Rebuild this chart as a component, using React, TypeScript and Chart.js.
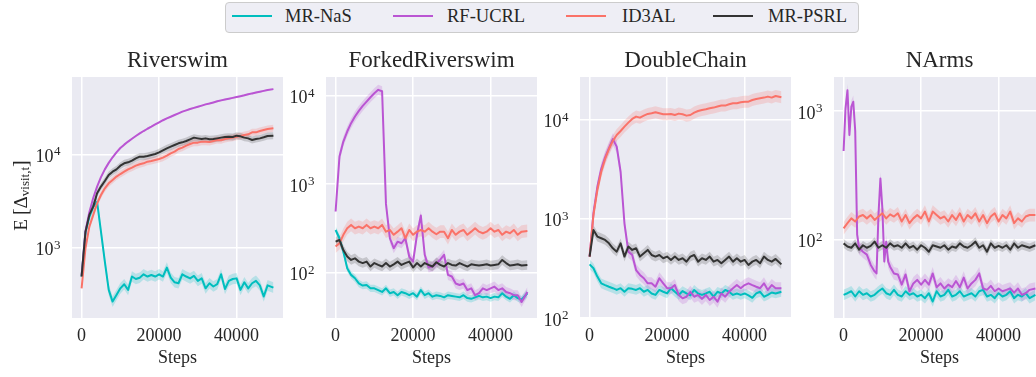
import { useEffect, useRef } from "react";
import { Chart, registerables } from "chart.js";

Chart.register(...registerables);

const FONT = "'Liberation Serif', 'Times New Roman', serif";
const TEXT = "#262626";
const PLOT_BG = "#EAEAF2";

const SERIES_NAMES = ["MR-NaS", "RF-UCRL", "ID3AL", "MR-PSRL"];
const SERIES_COLORS = ["#00BEBE", "#BA55D3", "#FA7268", "#333333"];
const SERIES_FILLS = [
  "rgba(0,190,190,0.22)",
  "rgba(186,85,211,0.22)",
  "rgba(250,114,104,0.22)",
  "rgba(51,51,51,0.2)",
];

// evaluation steps shared by most curves
const STEPS = [
  0, 1000, 2000, 3000, 4000, 5000, 6000, 7000, 8000, 9000,
  10000, 11000, 12000, 13000, 14000, 15000, 16000, 17000, 18000, 19000,
  20000, 21000, 22000, 23000, 24000, 25000, 26000, 27000, 28000, 29000,
  30000, 31000, 32000, 33000, 34000, 35000, 36000, 37000, 38000, 39000,
  40000, 41000, 42000, 43000, 44000, 45000, 46000, 47000, 48000, 49500,
];

// NArms RF-UCRL is logged more densely during its early oscillation
const NA_UCRL_STEPS = [
  0, 500, 1000, 1500, 2000, 2500, 3000, 3500, 4000, 4500, 5000, 6000, 7000,
  8000, 8500, 9000, 9500, 10000, 10500, 11000, 11500, 12000,
  13000, 14000, 15000, 16000, 17000, 18000, 19000, 20000, 21000, 22000,
  23000, 24000, 25000, 26000, 27000, 28000, 29000, 30000, 31000, 32000,
  33000, 34000, 35000, 36000, 37000, 38000, 39000, 40000, 41000, 42000,
  43000, 44000, 45000, 46000, 47000, 48000, 49500,
];

const X_TICKS = [0, 20000, 40000];
const DECADES = [1, 10, 100, 1000, 10000, 100000];

// ---- Riverswim ----
const RS_NAS = [
  490, 1450, 2150, 2750, 3100, 1480, 708, 352, 264, 311,
  366, 405, 352, 490, 461, 476, 518, 490, 509, 490,
  518, 490, 611, 476, 425, 415, 518, 490, 468, 497,
  440, 468, 366, 415, 383, 405, 518, 360, 440, 461,
  468, 352, 425, 366, 415, 440, 394, 299, 394, 373,
];
const RS_UCRL = [
  500, 1500, 2400, 3400, 4500, 5700, 6900, 8100, 9300, 10500,
  11700, 12700, 13700, 14700, 15710, 16750, 17780, 18800, 19780, 20900,
  22000, 23200, 24300, 25300, 26400, 27500, 28700, 29600, 30600, 31500,
  32400, 33300, 34300, 35100, 36000, 37000, 37900, 38700, 39500, 40300,
  41100, 42000, 42900, 44000, 45000, 45900, 46900, 47900, 48900, 50000,
];
const RS_ID3AL = [
  366, 984, 1680, 2240, 2985, 3665, 4320, 4890, 5310, 5770,
  6150, 6520, 6900, 7200, 7560, 7820, 8010, 8340, 8490, 8700,
  8910, 9210, 9680, 10250, 10680, 11410, 11790, 12380, 12900, 13340,
  13340, 13680, 13680, 13560, 13900, 14260, 14140, 14590, 14830, 15100,
  15460, 15710, 16110, 16380, 17210, 17210, 17780, 18240, 18680, 19000,
];
const RS_PSRL = [
  490, 1480, 2240, 2750, 3820, 4510, 5180, 6010, 6520, 6900,
  7560, 8010, 8210, 8550, 9060, 9440, 9440, 9600, 9840, 10080,
  10500, 11040, 11590, 12080, 12590, 13120, 13450, 13900, 14480, 15100,
  14830, 14590, 14830, 14480, 14590, 14830, 15100, 15340, 15460, 15340,
  15850, 15590, 15100, 14830, 14260, 14590, 14830, 15220, 15720, 15850,
];
const RS_BAND = [1.14, 1.02, 1.09, 1.09];

// ---- ForkedRiverswim ----
const FR_NAS = [
  305, 246, 174, 113, 95, 87, 76, 72, 73, 67,
  67, 64, 61, 67, 59, 61, 56, 61, 59, 56,
  59, 54, 64, 56, 59, 54, 56, 55, 53, 56,
  55, 54, 53, 56, 52, 51, 53, 55, 53, 54,
  52, 54, 53, 59, 54, 51, 56, 52, 50, 59,
];
const FR_UCRL = [
  492, 2050, 3030, 3930, 4880, 5800, 6720, 7640, 8560, 9580,
  10620, 11600, 11200, 600, 246, 190, 225, 216, 246, 153,
  134, 269, 443, 160, 115, 118, 128, 141, 160, 95,
  91, 76, 73, 76, 64, 67, 56, 59, 67, 64,
  67, 70, 64, 67, 61, 59, 56, 56, 47, 61,
];
const FR_ID3AL = [
  198, 216, 269, 319, 348, 319, 333, 319, 348, 319,
  333, 319, 348, 292, 305, 269, 292, 319, 246, 305,
  269, 292, 305, 292, 319, 292, 273, 292, 292, 246,
  305, 269, 292, 305, 269, 292, 319, 292, 280, 292,
  319, 292, 305, 269, 292, 280, 305, 269, 292, 297,
];
const FR_PSRL = [
  225, 235, 181, 153, 140, 146, 134, 129, 134, 118,
  129, 123, 118, 129, 118, 125, 134, 123, 129, 134,
  115, 129, 118, 129, 123, 118, 132, 123, 118, 129,
  123, 121, 129, 123, 118, 125, 123, 121, 123, 125,
  121, 123, 125, 140, 129, 121, 123, 125, 121, 123,
];
const FR_BAND = [1.1, 1.14, 1.18, 1.13];

// ---- DoubleChain ----
const DC_NAS = [
  348, 318, 262, 224, 215, 207, 200, 192, 200, 184,
  200, 197, 192, 200, 184, 192, 177, 171, 192, 184,
  177, 200, 184, 171, 187, 177, 169, 192, 177, 171,
  177, 184, 164, 184, 177, 192, 184, 171, 177, 171,
  177, 169, 160, 177, 184, 164, 171, 181, 177, 184,
];
const DC_UCRL = [
  417, 1150, 2100, 3200, 4200, 5200, 6400, 5380, 3000, 900,
  468, 433, 305, 272, 252, 224, 224, 207, 252, 224,
  200, 200, 215, 171, 158, 164, 184, 164, 171, 156,
  171, 152, 164, 146, 177, 164, 184, 200, 215, 200,
  215, 224, 215, 207, 200, 224, 192, 215, 200, 200,
];
const DC_ID3AL = [
  417, 1100, 1960, 3000, 4040, 5090, 6140, 7050, 7740, 8570,
  9400, 10240, 10810, 10560, 11060, 11500, 11670, 11950, 11670, 11410,
  11410, 11500, 11220, 11590, 11410, 11060, 11220, 11860, 12330, 12620,
  12810, 13120, 13330, 13650, 13970, 13970, 14400, 14740, 14740, 15080,
  15300, 15300, 15920, 16300, 16560, 16820, 17220, 16820, 17470, 16940,
];
const DC_PSRL = [
  417, 774, 664, 639, 614, 568, 506, 468, 568, 417,
  526, 487, 506, 417, 450, 487, 433, 417, 433, 401,
  417, 386, 417, 386, 401, 371, 417, 433, 371, 401,
  386, 417, 371, 386, 357, 386, 417, 371, 401, 371,
  386, 343, 371, 386, 357, 417, 386, 371, 395, 348,
];
const DC_BAND = [1.12, 1.15, 1.15, 1.12];

// ---- NArms ----
const NA_NAS = [
  37.5, 38.6, 40, 36.4, 40, 37.5, 38.6, 36.4, 37.5, 40,
  42, 38.6, 37.5, 41, 37.5, 36.4, 40, 37.5, 38.6, 36.4,
  37.5, 35.3, 38.6, 33.3, 40, 36.4, 37.5, 41, 36.4, 37.5,
  40, 36.4, 37.5, 38.6, 36.4, 40, 41, 36.4, 37.5, 35.3,
  38.6, 36.4, 37.5, 40, 35.3, 37.5, 36.4, 38.6, 35.3, 37.5,
];
const NA_UCRL = [
  490, 1050, 1450, 652, 1080, 1180, 700, 110, 86, 84, 81, 77, 64,
  57, 55, 156, 300, 176, 68, 97, 68, 62,
  55, 54, 45, 54, 40, 46, 49, 45, 49, 45,
  55, 43, 46, 42, 45, 43, 48, 43, 51, 42,
  46, 49, 55, 42, 41, 44, 40, 42, 40, 41,
  42, 39, 42, 37.5, 38.6, 41, 42,
];
const NA_ID3AL = [
  123, 135, 147, 139, 152, 156, 147, 156, 143, 152,
  161, 147, 158, 152, 161, 139, 156, 135, 147, 156,
  147, 166, 139, 166, 156, 147, 152, 139, 156, 143,
  161, 139, 156, 147, 161, 139, 156, 135, 152, 161,
  139, 156, 147, 166, 135, 147, 139, 152, 156, 156,
];
const NA_PSRL = [
  94, 89, 87, 94, 84, 91, 87, 90, 97, 87,
  91, 87, 94, 89, 91, 87, 94, 87, 90, 84,
  91, 87, 81, 91, 89, 87, 91, 84, 89, 87,
  94, 89, 87, 91, 97, 87, 91, 81, 94, 87,
  90, 87, 91, 84, 94, 87, 91, 89, 87, 91,
];
const NA_BAND = [1.1, 1.12, 1.12, 1.08];

type Series = { steps: number[]; values: number[]; band: number };
type PanelSpec = {
  title: string;
  plotLeft: number;
  yMin: number;
  yMax: number;
  yLabel: boolean;
  series: Series[];
};

const PANELS: PanelSpec[] = [
  {
    title: "Riverswim", plotLeft: 72, yMin: 176, yMax: 67450, yLabel: true,
    series: [
      { steps: STEPS, values: RS_NAS, band: RS_BAND[0] },
      { steps: STEPS, values: RS_UCRL, band: RS_BAND[1] },
      { steps: STEPS, values: RS_ID3AL, band: RS_BAND[2] },
      { steps: STEPS, values: RS_PSRL, band: RS_BAND[3] },
    ],
  },
  {
    title: "ForkedRiverswim", plotLeft: 326, yMin: 31, yMax: 16200, yLabel: false,
    series: [
      { steps: STEPS, values: FR_NAS, band: FR_BAND[0] },
      { steps: STEPS, values: FR_UCRL, band: FR_BAND[1] },
      { steps: STEPS, values: FR_ID3AL, band: FR_BAND[2] },
      { steps: STEPS, values: FR_PSRL, band: FR_BAND[3] },
    ],
  },
  {
    title: "DoubleChain", plotLeft: 580, yMin: 100, yMax: 27160, yLabel: false,
    series: [
      { steps: STEPS, values: DC_NAS, band: DC_BAND[0] },
      { steps: STEPS, values: DC_UCRL, band: DC_BAND[1] },
      { steps: STEPS, values: DC_ID3AL, band: DC_BAND[2] },
      { steps: STEPS, values: DC_PSRL, band: DC_BAND[3] },
    ],
  },
  {
    title: "NArms", plotLeft: 834, yMin: 24.8, yMax: 1837, yLabel: false,
    series: [
      { steps: STEPS, values: NA_NAS, band: NA_BAND[0] },
      { steps: NA_UCRL_STEPS, values: NA_UCRL, band: NA_BAND[1] },
      { steps: STEPS, values: NA_ID3AL, band: NA_BAND[2] },
      { steps: STEPS, values: NA_PSRL, band: NA_BAND[3] },
    ],
  },
];

const Y_AXIS_WIDTH = 72;
const PLOT_WIDTH = 211;
const CANVAS_W = Y_AXIS_WIDTH + PLOT_WIDTH + 4;
const CANVAS_H = 337;
const CANVAS_TOP = 40;

const plotBackground = {
  id: "plotBackground",
  beforeDraw(chart: any) {
    const { ctx, chartArea: a } = chart;
    ctx.save();
    ctx.fillStyle = PLOT_BG;
    ctx.fillRect(a.left, a.top, a.right - a.left, a.bottom - a.top);
    ctx.restore();
  },
};

// decade labels drawn as 10 with a raised exponent
const powerTicks = {
  id: "powerTicks",
  afterDraw(chart: any) {
    const { ctx, chartArea: a } = chart;
    const scale = chart.scales.y;
    ctx.save();
    ctx.fillStyle = TEXT;
    ctx.textAlign = "right";
    ctx.textBaseline = "alphabetic";
    const right = a.left - 11.5;
    scale.ticks.forEach((t: any) => {
      const y = scale.getPixelForValue(t.value);
      const exp = String(Math.round(Math.log10(t.value)));
      ctx.font = `13px ${FONT}`;
      const ew = ctx.measureText(exp).width;
      ctx.fillText(exp, right, y + 1);
      ctx.font = `18px ${FONT}`;
      ctx.fillText("10", right - ew - 0.5, y + 7.5);
    });
    ctx.restore();
  },
};

// rotated y-axis label E[Δ_visit,t]
const yAxisLabel = {
  id: "yAxisLabel",
  afterDraw(chart: any) {
    const { ctx, chartArea: a } = chart;
    const parts = [
      { t: "E", size: 19, dy: 7 },
      { t: "\u2009[", size: 20, dy: 7 },
      { t: "\u0394", size: 19, dy: 7 },
      { t: "visit,t", size: 13, dy: 9 },
      { t: "]", size: 20, dy: 7 },
    ];
    ctx.save();
    ctx.translate(20, (a.top + a.bottom) / 2 - 2);
    ctx.rotate(-Math.PI / 2);
    ctx.fillStyle = TEXT;
    ctx.textBaseline = "alphabetic";
    ctx.textAlign = "left";
    let total = 0;
    const widths = parts.map((p) => {
      ctx.font = `${p.size}px ${FONT}`;
      const w = ctx.measureText(p.t).width;
      total += w;
      return w;
    });
    let x = -total / 2;
    parts.forEach((p, i) => {
      ctx.font = `${p.size}px ${FONT}`;
      ctx.fillText(p.t, x, p.dy);
      x += widths[i];
    });
    ctx.restore();
  },
};

function buildDatasets(panel: PanelSpec) {
  const bands: any[] = [];
  const lines: any[] = [];
  panel.series.forEach((s, i) => {
    const upper = s.steps.map((x, k) => ({ x, y: s.values[k] * s.band }));
    const lower = s.steps.map((x, k) => ({ x, y: s.values[k] / s.band }));
    const mean = s.steps.map((x, k) => ({ x, y: s.values[k] }));
    bands.push({
      label: `${SERIES_NAMES[i]} upper`,
      data: upper,
      borderWidth: 0,
      borderColor: "rgba(0,0,0,0)",
      backgroundColor: SERIES_FILLS[i],
      pointRadius: 0,
      fill: "+1",
      order: 14 - i,
    });
    bands.push({
      label: `${SERIES_NAMES[i]} lower`,
      data: lower,
      borderWidth: 0,
      borderColor: "rgba(0,0,0,0)",
      backgroundColor: "rgba(0,0,0,0)",
      pointRadius: 0,
      fill: false,
      order: 14 - i,
    });
    lines.push({
      label: SERIES_NAMES[i],
      data: mean,
      borderColor: SERIES_COLORS[i],
      borderWidth: 2,
      borderJoinStyle: "round",
      pointRadius: 0,
      fill: false,
      order: 4 - i,
    });
  });
  return [...bands, ...lines];
}

function PanelChart({ panel }: { panel: PanelSpec }) {
  const ref = useRef<HTMLCanvasElement | null>(null);

  useEffect(() => {
    if (!ref.current) return;
    const chart = new Chart(ref.current, {
      type: "line",
      data: { datasets: buildDatasets(panel) },
      options: {
        animation: false,
        responsive: false,
        devicePixelRatio: 1,
        events: [],
        layout: { padding: { left: 0, right: CANVAS_W - Y_AXIS_WIDTH - PLOT_WIDTH, top: 0, bottom: 0 } },
        plugins: {
          legend: { display: false },
          tooltip: { enabled: false },
          title: {
            display: true,
            text: panel.title,
            fullSize: false,
            color: TEXT,
            font: { family: FONT, size: 23, weight: "normal" },
            padding: { top: 7, bottom: 2.4 },
          },
        },
        scales: {
          x: {
            type: "linear",
            min: -2475,
            max: 51975,
            afterBuildTicks: (scale: any) => {
              scale.ticks = X_TICKS.map((v) => ({ value: v }));
            },
            afterFit: (scale: any) => {
              scale.height = 59;
            },
            grid: { color: "#FFFFFF", lineWidth: 1.5, drawTicks: false },
            border: { display: false },
            ticks: {
              padding: 7,
              color: TEXT,
              font: { family: FONT, size: 18 },
              maxRotation: 0,
              callback: (v: any) => String(v),
            },
            title: {
              display: true,
              text: "Steps",
              color: TEXT,
              font: { family: FONT, size: 18 },
              padding: { top: 0, bottom: 8 },
            },
          },
          y: {
            type: "logarithmic",
            min: panel.yMin,
            max: panel.yMax,
            afterBuildTicks: (scale: any) => {
              scale.ticks = DECADES.filter((v) => v >= panel.yMin && v <= panel.yMax).map((v) => ({ value: v }));
            },
            afterFit: (scale: any) => {
              scale.width = Y_AXIS_WIDTH;
            },
            grid: { color: "#FFFFFF", lineWidth: 1.5, drawTicks: false },
            border: { display: false },
            ticks: { display: false },
          },
        },
      } as any,
      plugins: panel.yLabel ? [plotBackground, powerTicks, yAxisLabel] : [plotBackground, powerTicks],
    });
    return () => chart.destroy();
  }, [panel]);

  return (
    <canvas
      ref={ref}
      width={CANVAS_W}
      height={CANVAS_H}
      style={{
        position: "absolute",
        left: panel.plotLeft - Y_AXIS_WIDTH,
        top: CANVAS_TOP,
        width: CANVAS_W,
        height: CANVAS_H,
      }}
    />
  );
}

const LEGEND_LINE_X = [232, 393, 566, 713];
const LEGEND_TEXT_X = [285, 447, 622, 768];

function Legend() {
  return (
    <>
      <div
        style={{
          position: "absolute",
          left: 225,
          top: 2,
          width: 634,
          height: 31,
          boxSizing: "border-box",
          border: "1px solid #CCCCCC",
          borderRadius: 4,
          background: "rgba(234,234,242,0.8)",
        }}
      />
      {SERIES_NAMES.map((name, i) => (
        <div key={name}>
          <div
            style={{
              position: "absolute",
              left: LEGEND_LINE_X[i],
              top: 14.5,
              width: 40,
              height: 2,
              background: SERIES_COLORS[i],
            }}
          />
          <span
            style={{
              position: "absolute",
              left: LEGEND_TEXT_X[i],
              top: 7,
              fontFamily: FONT,
              fontSize: 18.5,
              lineHeight: "19px",
              color: TEXT,
              whiteSpace: "nowrap",
            }}
          >
            {name}
          </span>
        </div>
      ))}
    </>
  );
}

export default function App() {
  return (
    <div
      style={{
        position: "absolute",
        left: 0,
        top: 0,
        width: 1036,
        height: 377,
        overflow: "hidden",
        background: "#FFFFFF",
      }}
    >
      <Legend />
      {PANELS.map((p) => (
        <PanelChart key={p.title} panel={p} />
      ))}
    </div>
  );
}
